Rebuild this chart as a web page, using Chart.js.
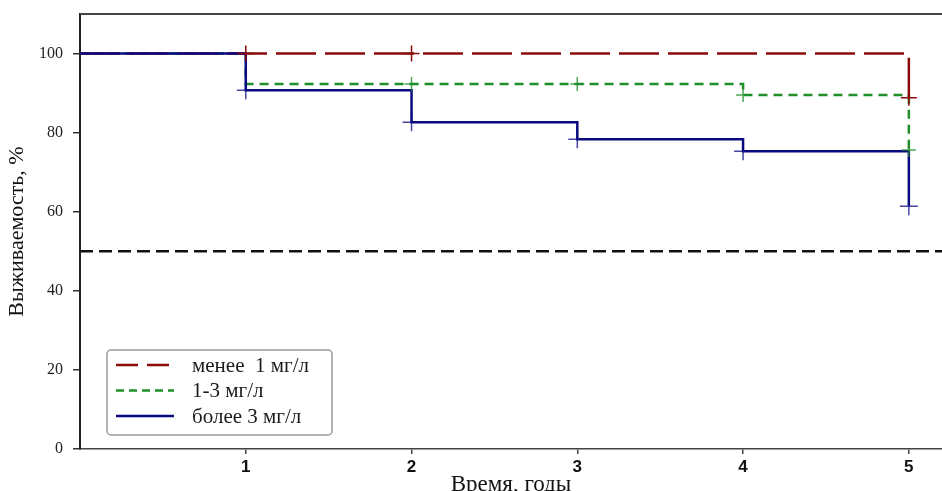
<!DOCTYPE html>
<html lang="ru">
<head>
<meta charset="UTF-8">
<title>Выживаемость</title>
<script src="https://cdn.jsdelivr.net/npm/chart.js"></script>
<style>
    html, body { margin: 0; padding: 0; background: #fff; }
</style>
</head>
<body>
<canvas id="kmChart" width="942" height="491"></canvas>
<script>
    // Годы наблюдения и выживаемость (%) по группам
    const lowTimes = [0, 5];
    const lowSurv = [100, 88.8];
    const midTimes = [0, 1, 4, 5];
    const midSurv = [100, 92.3, 89.5, 75.6];
    const highTimes = [0, 1, 2, 3, 4, 5];
    const highSurv = [100, 90.7, 82.6, 78.3, 75.3, 61.4];

    // Цензурированные наблюдения (метки "+")
    const lowCensX = [1, 2, 5];
    const lowCensY = [100, 100, 88.8];
    const midCensX = [2, 3, 4, 5];
    const midCensY = [92.3, 92.3, 89.5, 75.6];
    const highCensX = [1, 2, 3, 4, 5];
    const highCensY = [90.7, 82.6, 78.3, 75.3, 61.4];

    const medianLine = 50;
    const xTicks = [1, 2, 3, 4, 5];
    const yTicks = [0, 20, 40, 60, 80, 100];
    const labels = ['менее  1 мг/л', '1-3 мг/л', 'более 3 мг/л'];

    const RED = '#8b0a0a';
    const GREEN = '#1f8f2a';
    const BLUE = '#0a0a80';

    function pts(xs, ys) {
        return xs.map((x, i) => ({ x: x, y: ys[i] }));
    }

    // легенда в рамке внутри графика
    const boxLegend = {
        id: 'boxLegend',
        afterDraw(chart) {
            const ctx = chart.ctx;
            const area = chart.chartArea;
            ctx.save();
            // верхняя рамка
            ctx.strokeStyle = '#444';
            ctx.lineWidth = 2;
            ctx.beginPath();
            ctx.moveTo(area.left, area.top);
            ctx.lineTo(chart.width, area.top);
            ctx.stroke();

            ctx.fillStyle = '#fff';
            ctx.strokeStyle = '#9a9a9a';
            ctx.lineWidth = 1.5;
            ctx.beginPath();
            ctx.roundRect(107, 350, 225, 85, 4);
            ctx.fill();
            ctx.stroke();

            const styles = [
                { c: RED, d: [22, 9] },
                { c: GREEN, d: [8, 5] },
                { c: BLUE, d: [] }
            ];
            ctx.font = '21px "Liberation Serif"';
            ctx.textBaseline = 'middle';
            labels.forEach((t, i) => {
                const y = 365 + i * 25.5;
                ctx.strokeStyle = styles[i].c;
                ctx.lineWidth = 2.5;
                ctx.setLineDash(styles[i].d);
                ctx.beginPath();
                ctx.moveTo(116, y);
                ctx.lineTo(174, y);
                ctx.stroke();
                ctx.setLineDash([]);
                ctx.fillStyle = '#1a1a1a';
                ctx.fillText(t, 192, y + 1);
            });
            ctx.restore();
        }
    };

    const ctx = document.getElementById('kmChart').getContext('2d');
    const kmChart = new Chart(ctx, {
        type: 'line',
        data: {
            datasets: [
                {
                    label: labels[0],
                    data: pts(lowTimes, lowSurv),
                    stepped: true,
                    borderColor: RED,
                    borderWidth: 2.5,
                    borderDash: [40, 9],
                    pointRadius: 0,
                    fill: false,
                    order: 2
                },
                {
                    label: labels[1],
                    data: pts(midTimes, midSurv),
                    stepped: true,
                    borderColor: GREEN,
                    borderWidth: 2.5,
                    borderDash: [9, 6],
                    pointRadius: 0,
                    fill: false,
                    order: 3
                },
                {
                    label: labels[2],
                    data: pts(highTimes, highSurv),
                    stepped: true,
                    borderColor: BLUE,
                    borderWidth: 2.5,
                    pointRadius: 0,
                    fill: false,
                    order: 1
                },
                {
                    label: 'cens1',
                    data: pts(lowCensX, lowCensY),
                    showLine: false,
                    pointStyle: 'cross',
                    pointRadius: 8,
                    pointBorderWidth: 1.5,
                    pointBorderColor: RED,
                    order: 0
                },
                {
                    label: 'cens2',
                    data: pts(midCensX, midCensY),
                    showLine: false,
                    pointStyle: 'cross',
                    pointRadius: 7,
                    pointBorderWidth: 1.5,
                    pointBorderColor: 'rgba(31,143,42,0.8)',
                    order: 0
                },
                {
                    label: 'cens3',
                    data: pts(highCensX, highCensY),
                    showLine: false,
                    pointStyle: 'cross',
                    pointRadius: 9,
                    pointBorderWidth: 1.5,
                    pointBorderColor: 'rgba(10,10,128,0.75)',
                    order: 0
                },
                {
                    label: 'median',
                    data: [{ x: 0, y: medianLine }, { x: 5.2, y: medianLine }],
                    borderColor: '#111',
                    borderWidth: 2.5,
                    borderDash: [13, 6],
                    pointRadius: 0,
                    order: 4
                }
            ]
        },
        options: {
            responsive: false,
            animation: false,
            layout: { autoPadding: false, padding: { top: 14, right: 0, left: 0, bottom: 0 } },
            plugins: {
                legend: { display: false },
                tooltip: { enabled: false }
            },
            scales: {
                x: {
                    type: 'linear',
                    min: 0,
                    max: 5.2,
                    afterBuildTicks: (s) => { s.ticks = xTicks.map(v => ({ value: v })); },
                    afterFit: (s) => { s.height = 42; s.paddingLeft = 0; s.paddingRight = 0; },
                    grid: { drawOnChartArea: false, tickLength: 5, color: '#444', lineWidth: 1.5 },
                    border: { color: '#444', width: 1.5 },
                    ticks: {
                        padding: 3,
                        color: '#111',
                        font: { family: '"Liberation Sans"', size: 17, weight: 'bold' }
                    },
                    title: {
                        display: true,
                        text: 'Время, годы',
                        color: '#111',
                        padding: { top: 0, bottom: -8 },
                        font: { family: '"Liberation Serif"', size: 23 }
                    }
                },
                y: {
                    min: 0,
                    max: 110,
                    afterBuildTicks: (s) => { s.ticks = yTicks.map(v => ({ value: v })); },
                    afterFit: (s) => { s.width = 80; s.paddingTop = 0; s.paddingBottom = 0; },
                    grid: { drawOnChartArea: false, tickLength: 7, color: '#333', lineWidth: 1.5 },
                    border: { color: '#222', width: 2 },
                    ticks: {
                        padding: 10,
                        color: '#222',
                        font: { family: '"Liberation Serif"', size: 16 }
                    },
                    title: {
                        display: true,
                        text: 'Выживаемость, %',
                        color: '#111',
                        padding: { top: 4, bottom: 4 },
                        font: { family: '"Liberation Serif"', size: 22 }
                    }
                }
            }
        },
        plugins: [boxLegend]
    });
</script>
</body>
</html>
